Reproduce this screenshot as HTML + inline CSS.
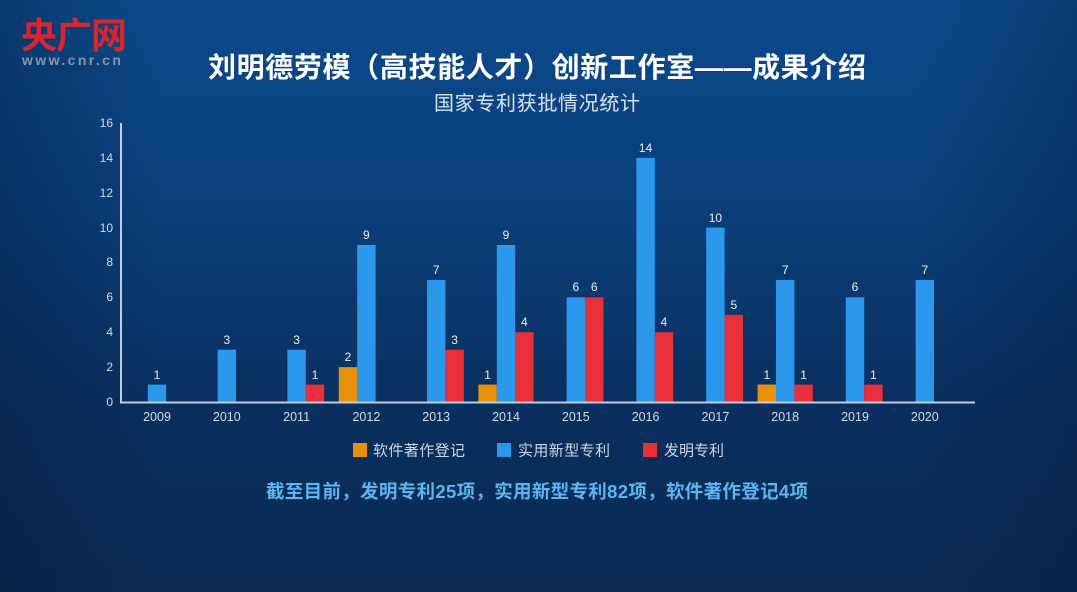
<!DOCTYPE html>
<html>
<head>
<meta charset="utf-8">
<style>
  html, body { margin: 0; padding: 0; width: 1077px; height: 592px; overflow: hidden; background: #0a3466; }
  svg { display: block; }
  text { font-family: "Liberation Sans", "Noto Sans CJK SC", sans-serif; }
</style>
</head>
<body>
<svg width="1077" height="592" viewBox="0 0 1077 592" xmlns="http://www.w3.org/2000/svg">
  <defs>
    <linearGradient id="bg" x1="0" y1="0" x2="0" y2="1">
      <stop offset="0" stop-color="#0b4a8c"/>
      <stop offset="0.35" stop-color="#0a3f7a"/>
      <stop offset="0.7" stop-color="#0a2f5e"/>
      <stop offset="1" stop-color="#0a2a52"/>
    </linearGradient>
    <linearGradient id="side" x1="0" y1="0" x2="1" y2="0">
      <stop offset="0" stop-color="#041a38" stop-opacity="0.35"/>
      <stop offset="0.15" stop-color="#041a38" stop-opacity="0"/>
      <stop offset="0.85" stop-color="#041a38" stop-opacity="0"/>
      <stop offset="1" stop-color="#041a38" stop-opacity="0.3"/>
    </linearGradient>
  </defs>
  <rect x="0" y="0" width="1077" height="592" fill="url(#bg)"/>
  <rect x="0" y="0" width="1077" height="592" fill="url(#side)"/>

  <!-- logo -->
  <text x="21" y="48" font-size="36" font-weight="bold" fill="#d8262e" letter-spacing="-1" style="font-family:'Noto Sans CJK SC','WenQuanYi Zen Hei',sans-serif">央广网</text>
  <text x="22" y="65" font-size="14" font-weight="bold" fill="#8796ab" letter-spacing="2.4">www.cnr.cn</text>

  <!-- titles -->
  <text x="537" y="77" font-size="28" font-weight="bold" fill="#ffffff" text-anchor="middle" textLength="658" lengthAdjust="spacing">刘明德劳模（高技能人才）创新工作室——成果介绍</text>
  <text x="537" y="110" font-size="20" fill="#dbe4ef" text-anchor="middle" textLength="206" lengthAdjust="spacing">国家专利获批情况统计</text>

  <!-- y tick labels -->
  <g font-size="12" fill="#d4dce8" text-anchor="end">
    <text x="113" y="406">0</text>
    <text x="113" y="371">2</text>
    <text x="113" y="336">4</text>
    <text x="113" y="301">6</text>
    <text x="113" y="266">8</text>
    <text x="113" y="232">10</text>
    <text x="113" y="197">12</text>
    <text x="113" y="162">14</text>
    <text x="113" y="127">16</text>
  </g>

  <!-- bars -->
  <g>
    <!-- 2009 -->
    <rect x="147.8" y="384.56" width="18.4" height="17.44" fill="#2b98ec"/>
    <!-- 2010 -->
    <rect x="217.6" y="349.68" width="18.4" height="52.32" fill="#2b98ec"/>
    <!-- 2011 -->
    <rect x="287.4" y="349.68" width="18.4" height="52.32" fill="#2b98ec"/>
    <rect x="305.8" y="384.56" width="18.4" height="17.44" fill="#e8303a"/>
    <!-- 2012 -->
    <rect x="338.8" y="367.12" width="18.4" height="34.88" fill="#e8920c"/>
    <rect x="357.2" y="245.04" width="18.4" height="156.96" fill="#2b98ec"/>
    <!-- 2013 -->
    <rect x="427" y="279.92" width="18.4" height="122.08" fill="#2b98ec"/>
    <rect x="445.4" y="349.68" width="18.4" height="52.32" fill="#e8303a"/>
    <!-- 2014 -->
    <rect x="478.4" y="384.56" width="18.4" height="17.44" fill="#e8920c"/>
    <rect x="496.8" y="245.04" width="18.4" height="156.96" fill="#2b98ec"/>
    <rect x="515.2" y="332.24" width="18.4" height="69.76" fill="#e8303a"/>
    <!-- 2015 -->
    <rect x="566.6" y="297.36" width="18.4" height="104.64" fill="#2b98ec"/>
    <rect x="585" y="297.36" width="18.4" height="104.64" fill="#e8303a"/>
    <!-- 2016 -->
    <rect x="636.4" y="157.84" width="18.4" height="244.16" fill="#2b98ec"/>
    <rect x="654.8" y="332.24" width="18.4" height="69.76" fill="#e8303a"/>
    <!-- 2017 -->
    <rect x="706.2" y="227.6" width="18.4" height="174.4" fill="#2b98ec"/>
    <rect x="724.6" y="314.8" width="18.4" height="87.2" fill="#e8303a"/>
    <!-- 2018 -->
    <rect x="757.6" y="384.56" width="18.4" height="17.44" fill="#e8920c"/>
    <rect x="776" y="279.92" width="18.4" height="122.08" fill="#2b98ec"/>
    <rect x="794.4" y="384.56" width="18.4" height="17.44" fill="#e8303a"/>
    <!-- 2019 -->
    <rect x="845.8" y="297.36" width="18.4" height="104.64" fill="#2b98ec"/>
    <rect x="864.2" y="384.56" width="18.4" height="17.44" fill="#e8303a"/>
    <!-- 2020 -->
    <rect x="915.6" y="279.92" width="18.4" height="122.08" fill="#2b98ec"/>
  </g>

  <!-- value labels -->
  <g font-size="12" fill="#eaf0f7" text-anchor="middle">
    <text x="157" y="379">1</text>
    <text x="226.8" y="344">3</text>
    <text x="296.6" y="344">3</text>
    <text x="315" y="379">1</text>
    <text x="348" y="361">2</text>
    <text x="366.4" y="239">9</text>
    <text x="436.2" y="274">7</text>
    <text x="454.6" y="344">3</text>
    <text x="487.6" y="379">1</text>
    <text x="506" y="239">9</text>
    <text x="524.4" y="326">4</text>
    <text x="575.8" y="291">6</text>
    <text x="594.2" y="291">6</text>
    <text x="645.6" y="152">14</text>
    <text x="664" y="326">4</text>
    <text x="715.4" y="222">10</text>
    <text x="733.8" y="309">5</text>
    <text x="766.8" y="379">1</text>
    <text x="785.2" y="274">7</text>
    <text x="803.6" y="379">1</text>
    <text x="855" y="291">6</text>
    <text x="873.4" y="379">1</text>
    <text x="924.8" y="274">7</text>
  </g>

  <!-- axes -->
  <line x1="121" y1="123" x2="121" y2="403" stroke="#c3ccd8" stroke-width="2"/>
  <line x1="120" y1="402.5" x2="975" y2="402.5" stroke="#c3ccd8" stroke-width="2"/>

  <!-- x labels -->
  <g font-size="12.5" fill="#d4dce8" text-anchor="middle">
    <text x="157" y="421">2009</text>
    <text x="226.8" y="421">2010</text>
    <text x="296.6" y="421">2011</text>
    <text x="366.4" y="421">2012</text>
    <text x="436.2" y="421">2013</text>
    <text x="506" y="421">2014</text>
    <text x="575.8" y="421">2015</text>
    <text x="645.6" y="421">2016</text>
    <text x="715.4" y="421">2017</text>
    <text x="785.2" y="421">2018</text>
    <text x="855" y="421">2019</text>
    <text x="924.8" y="421">2020</text>
  </g>

  <!-- legend -->
  <rect x="353" y="443" width="14" height="14" fill="#e8920c"/>
  <text x="373" y="455.5" font-size="15" fill="#cdd7e4" textLength="92" lengthAdjust="spacing">软件著作登记</text>
  <rect x="497" y="443" width="14" height="14" fill="#2b98ec"/>
  <text x="518" y="455.5" font-size="15" fill="#cdd7e4" textLength="92" lengthAdjust="spacing">实用新型专利</text>
  <rect x="643" y="443" width="14" height="14" fill="#e8303a"/>
  <text x="664" y="455.5" font-size="15" fill="#cdd7e4" textLength="60" lengthAdjust="spacing">发明专利</text>

  <!-- summary -->
  <text x="537" y="498" font-size="18.5" font-weight="bold" fill="#5cb6f0" text-anchor="middle" textLength="542" lengthAdjust="spacing">截至目前，发明专利25项，实用新型专利82项，软件著作登记4项</text>
</svg>
</body>
</html>
